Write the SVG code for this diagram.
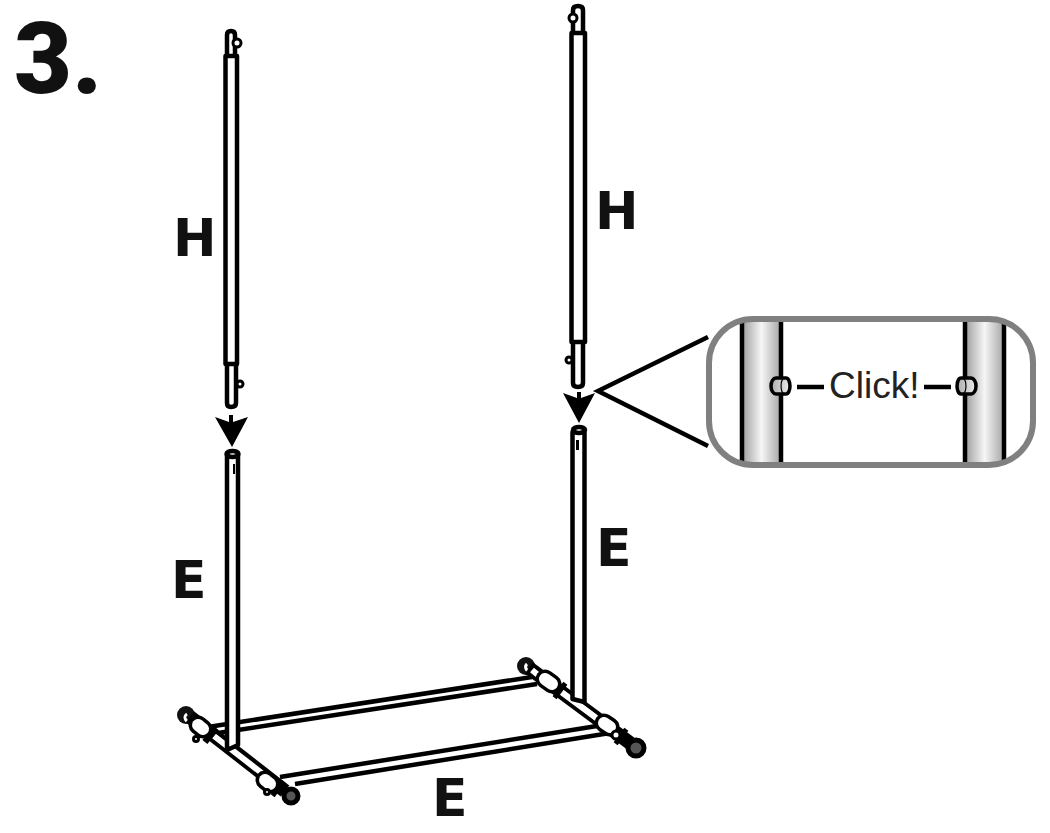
<svg xmlns="http://www.w3.org/2000/svg" width="1050" height="833" viewBox="0 0 1050 833">
<style>
.lbl{font-family:"DejaVu Sans",sans-serif;font-weight:700;font-size:52px;fill:#111}
.t{fill:#fff;stroke:#000;stroke-width:4.500;stroke-linejoin:round}
.l{fill:none;stroke:#000;stroke-width:4.500}
.k{fill:#fff;stroke:#000;stroke-width:3}
.wheel{fill:#555;stroke:#000;stroke-width:5}
.barb{fill:none;stroke:#000;stroke-width:14;stroke-linecap:butt}
.barw{fill:none;stroke:#fff;stroke-width:6;stroke-linecap:butt}
.colb{fill:none;stroke:#000;stroke-width:19;stroke-linecap:round}
.colw{fill:none;stroke:#fff;stroke-width:12;stroke-linecap:round}
.band{fill:none;stroke:#000;stroke-width:18;stroke-linecap:butt}
</style>
<defs>
<linearGradient id="tube" x1="0" x2="1" y1="0" y2="0">
<stop offset="0" stop-color="#9c9c9c"/><stop offset=".5" stop-color="#f6f6f6"/><stop offset="1" stop-color="#a4a4a4"/>
</linearGradient>
<linearGradient id="pin" x1="0" x2="1" y1="0" y2="0">
<stop offset="0" stop-color="#aaa"/><stop offset="1" stop-color="#eee"/>
</linearGradient>
</defs>
<text x="14" y="93" font-family="Roboto, sans-serif" font-weight="900" font-size="100" fill="#111">3.</text>

<g id="base">
<path class="l" d="M208 727L532 677M218 733L537 684"/>
<path class="l" d="M280 777L597 726M295 784L610 733"/>

<circle cx="186" cy="715" r="9" fill="#111"/>
<path d="M187 714A4 4 0 0 0 191 721" fill="none" stroke="#fff" stroke-width="3"/>
<path class="barb" d="M190 717L285 791"/>
<path class="barw" d="M192 719L198 724M214 736L272 781"/>
<path class="band" d="M208 733L213 737"/>
<path class="colb" d="M198 725L203 729"/>
<path class="colw" d="M198 725L203 729"/>
<circle class="k" cx="196" cy="739" r="2.500"/>
<path class="band" d="M276 787L280 790"/>
<path class="colb" d="M265 780L270 784"/>
<path class="colw" d="M265 780L270 784"/>
<circle class="k" cx="267" cy="792" r="2.500"/>
<circle class="wheel" cx="291" cy="796" r="7"/>

<circle cx="526" cy="666" r="9" fill="#111"/>
<path d="M527 664A4 4 0 0 0 530 671" fill="none" stroke="#fff" stroke-width="3"/>
<path class="barb" d="M529 668L630 743"/>
<path class="barw" d="M532 670L538 675M556 688L603 723M612 730L620 736"/>
<path class="band" d="M558 689L562 692"/>
<path class="colb" d="M545 679L552 684"/>
<path class="colw" d="M545 679L552 684"/>
<path class="band" d="M619 735L623 738"/>
<path class="colb" d="M604 723L610 727"/>
<path class="colw" d="M604 723L610 727"/>
<circle cx="616" cy="735" r="4" fill="#fff" stroke="#000" stroke-width="3"/>
<circle class="wheel" cx="636" cy="748" r="8"/>
</g>

<g id="left-lower-post">
<path class="t" d="M227 455V750L238 745V455Z"/>
<ellipse class="t" cx="232.500" cy="454" rx="6" ry="3" stroke-width="3"/>
<path d="M233 464h2v10h-2z" fill="#000"/>
</g>

<g id="left-upper-post">
<path class="t" d="M227 58V35Q227 31 231 31Q235 31 235 35V58Z" stroke-width="4"/>
<circle class="k" cx="237" cy="43" r="4"/>
<path class="t" d="M227 362V403Q227 407 231 407Q236 407 236 403V362Z" stroke-width="4"/>
<circle class="k" cx="240" cy="384" r="3"/>
<path class="t" d="M225.500 56V364H237V56Z"/>
</g>

<g id="left-arrow">
<path d="M215 417L229 422V415H233V422L248 417L232 447Z" fill="#000"/>
</g>

<g id="right-lower-post">
<path class="t" d="M572.500 432V699L584.500 702V432Z"/>
<ellipse class="t" cx="579" cy="430" rx="6" ry="3" stroke-width="3"/>
<path d="M576 440h3v10h-3z" fill="#000"/>
</g>

<g id="right-upper-post">
<path class="t" d="M573 34V10Q573 6 578 6Q583 6 583 10V34Z" stroke-width="4"/>
<circle class="k" cx="573" cy="18" r="4"/>
<path class="t" d="M573 340V383Q573 387 578 387Q583 387 583 383V340Z" stroke-width="4"/>
<circle class="k" cx="569" cy="360" r="3"/>
<path class="t" d="M571.500 33V342H585V33Z"/>
</g>

<g id="right-arrow">
<path d="M563 393L577 398V392H581V398L595 393L579 423Z" fill="#000"/>
</g>

<g id="callout">
<path class="l" d="M708 337L598 391L708 446"/>
<rect x="709" y="319" width="324" height="146" rx="44" fill="#fff"/>
<rect x="742" y="321" width="39" height="142" fill="url(#tube)"/>
<rect x="965" y="321" width="39" height="142" fill="url(#tube)"/>
<path class="l" d="M742 321V463M781 321V463M965 321V463M1004 321V463"/>
<rect x="709" y="319" width="324" height="146" rx="44" fill="none" stroke="#808080" stroke-width="6"/>
<path d="M776 378H786A4 8 0 0 1 786 394H776A5 8 0 0 1 776 378Z" fill="url(#pin)" stroke="#000" stroke-width="3.500"/>
<path d="M783 379A3 7.500 0 0 0 783 393" fill="none" stroke="#000" stroke-width="1.200"/>
<path d="M961 378H971A5 8 0 0 1 971 394H961A4 8 0 0 1 961 378Z" fill="url(#pin)" stroke="#000" stroke-width="3.500"/>
<path d="M964 379A3 7.500 0 0 1 964 393" fill="none" stroke="#000" stroke-width="1.200"/>
<path class="l" d="M797 387H824M924 387H951"/>
<text x="829" y="398" font-family="Liberation Sans, Arial, sans-serif" font-size="37" fill="#222">Click!</text>
</g>

<g id="labels">
<text class="lbl" x="173" y="256">H</text>
<text class="lbl" x="595" y="229">H</text>
<text class="lbl" x="171" y="598">E</text>
<text class="lbl" x="596" y="566">E</text>
<text class="lbl" x="432" y="816">E</text>
</g>
</svg>
